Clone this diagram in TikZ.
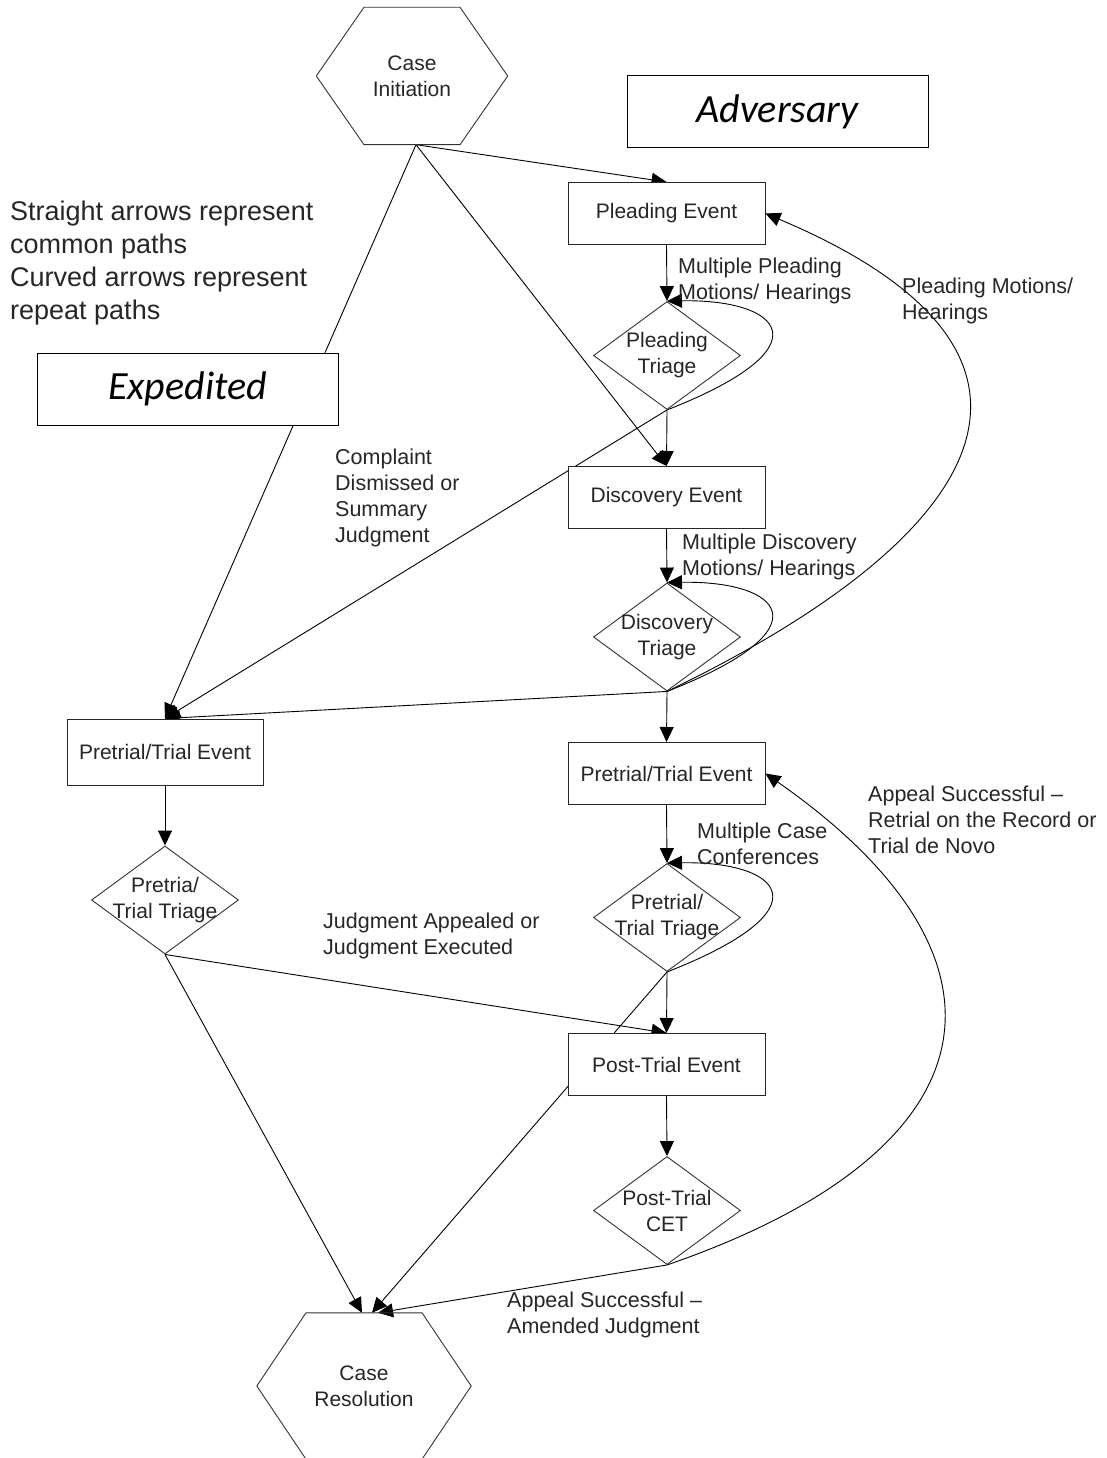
\documentclass[tikz,border=0pt]{standalone}
\usepackage{fontspec}
\setmainfont{Liberation Sans}
\newfontfamily\modefont{Carlito}
\usetikzlibrary{arrows.meta,shapes.geometric,backgrounds}

\begin{document}
\begin{tikzpicture}[x=1pt,y=-1pt,
  evt/.style={draw=black!85, fill=white, line width=1pt, minimum width=197pt,
    minimum height=62pt, inner sep=0pt, text=black!85,
    font=\fontsize{21}{26}\selectfont},
  tri/.style={diamond, draw=black!80, fill=white, line width=0.9pt,
    minimum width=147pt, minimum height=108pt, inner sep=0pt},
  trilabel/.style={align=center, inner sep=0pt, text=black!85,
    font=\fontsize{21}{26}\selectfont},
  hexnode/.style={inner sep=0pt, align=center, text=black!85,
    font=\fontsize{21}{26}\selectfont},
  hexline/.style={draw=black!80, line width=0.9pt},
  modebox/.style={draw=black, fill=white, line width=1pt, minimum width=301pt,
    minimum height=72pt, inner sep=0pt,
    font={\modefont\itshape\fontsize{40}{48}\selectfont}},
  lbl/.style={anchor=west, align=left, inner sep=0pt, text=black!85,
    font=\fontsize{21.5}{26}\selectfont},
  conn/.style={draw=black, line width=0.9pt, -{Triangle[length=15pt,width=14pt]}},
]
\useasboundingbox (0,0) rectangle (1107,1458);

% start and end states
\node[hexnode, minimum width=191pt, minimum height=137pt] (init) at (412,76) {Case\\Initiation};
\draw[hexline] (init.west) -- ([xshift=-48pt]init.north) -- ([xshift=48pt]init.north)
  -- (init.east) -- ([xshift=48pt]init.south) -- ([xshift=-48pt]init.south) -- cycle;

\node[hexnode, minimum width=214pt, minimum height=146pt] (res) at (364,1386) {Case\\Resolution};
\draw[hexline] (res.west) -- ([xshift=-58pt]res.north) -- ([xshift=58pt]res.north)
  -- (res.east) -- ([xshift=58pt]res.south) -- ([xshift=-58pt]res.south) -- cycle;

% track titles and legend
\node[modebox] (adv) at (777.5,111.5) {\raisebox{-3pt}{Adversary}};
\node[modebox] (exp) at (187.5,389) {\raisebox{-3pt}{Expedited}};
\node[lbl, font=\fontsize{27}{33}\selectfont] (legend) at (10,263)
  {Straight arrows represent\\common paths\\Curved arrows represent\\repeat paths};

% adversary track
\node[evt] (plead) at (666.5,213.5) {Pleading Event};
\node[tri, label={[trilabel]center:Pleading\\Triage}] (ptri) at (667,355.5) {};
\node[evt] (disc) at (666.5,497.5) {Discovery Event};
\node[tri, label={[trilabel]center:Discovery\\Triage}] (dtri) at (667,637) {};
\node[evt] (ptright) at (666.5,773.5) {Pretrial/Trial Event};
\node[tri, label={[trilabel]center:Pretrial/\\Trial Triage}] (pttri) at (667,917.5) {};
\node[evt] (post) at (666.5,1064.5) {Post-Trial Event};
\node[tri, label={[trilabel]center:Post-Trial\\CET}] (cet) at (667,1210.5) {};

% expedited track
\node[evt, minimum width=196pt, minimum height=66pt] (ptleft) at (165,752) {Pretrial/Trial Event};
\node[tri, label={[trilabel]center:Pretria/\\Trial Triage}] (lttri) at (165,900) {};

% path labels
\node[lbl] (l1) at (678,281) {Multiple Pleading\\Motions/ Hearings};
\node[lbl] (l2) at (902,301) {Pleading Motions/\\Hearings};
\node[lbl] (l3) at (335,498) {Complaint\\Dismissed or\\Summary\\Judgment};
\node[lbl] (l4) at (682,557) {Multiple Discovery\\Motions/ Hearings};
\node[lbl] (l5) at (697,844) {Multiple Case\\Conferences};
\node[lbl] (l6) at (868,820) {Appeal Successful --\\Retrial on the Record or\\Trial de Novo};
\node[lbl] (l7) at (323,936) {Judgment Appealed or\\Judgment Executed};
\node[lbl] (l8) at (507,1315) {Appeal Successful --\\Amended Judgment};

% connectors run beneath the shapes
\begin{scope}[on background layer]
  \draw[conn] ([xshift=4pt]init.south) -- (plead.north);
  \draw[conn] ([xshift=4pt]init.south) -- (disc.north);
  \draw[conn] ([xshift=4pt]init.south) -- (ptleft.north);

  \draw[conn] (plead.south) -- (ptri.north);
  \draw[conn] (ptri.south) .. controls +(163,-64) and +(113,-2) .. (ptri.north);
  \draw[conn] (ptri.south) -- (disc.north);
  \draw[conn] (ptri.south) -- (ptleft.north);

  \draw[conn] (disc.south) -- (dtri.north);
  \draw[conn] (dtri.south) .. controls +(163,-64) and +(113,-2) .. (dtri.north);
  \draw[conn] (dtri.south) .. controls +(333,-161) and +(325,137) .. (plead.east);
  \draw[conn] (dtri.south) -- (ptleft.north);
  \draw[conn] (dtri.south) -- (ptright.north);

  \draw[conn] (ptright.south) -- (pttri.north);
  \draw[conn] (pttri.south) .. controls +(163,-64) and +(113,-2) .. (pttri.north);
  \draw[conn] (pttri.south) -- (post.north);
  \draw[conn] (pttri.south) -- ([xshift=8pt]res.north);

  \draw[conn] (ptleft.south) -- (lttri.north);
  \draw[conn] (lttri.south) -- (post.north);
  \draw[conn] (lttri.south) -- ([xshift=-2pt]res.north);

  \draw[conn] (post.south) -- (cet.north);
  \draw[conn] (cet.south) -- ([xshift=14pt]res.north);
  \draw[conn] (cet.south) .. controls +(333,-115) and +(265,185) .. (ptright.east);
\end{scope}
\end{tikzpicture}
\end{document}
